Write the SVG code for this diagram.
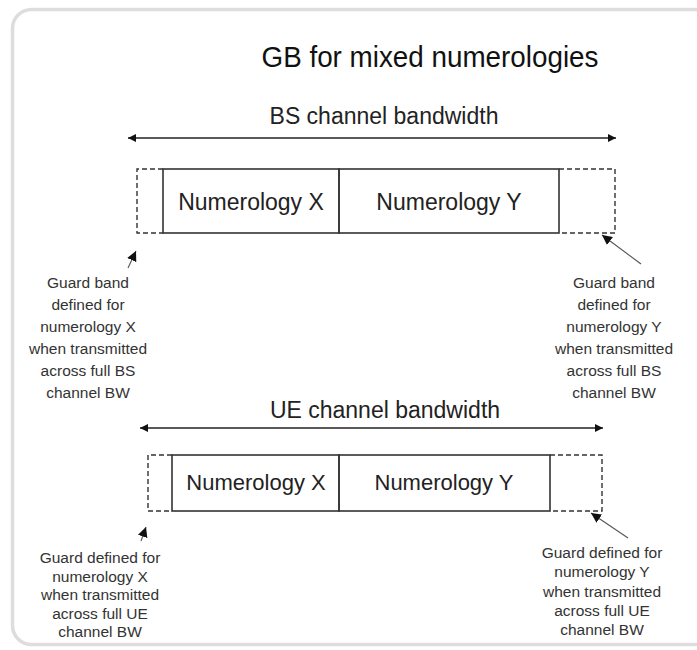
<svg xmlns="http://www.w3.org/2000/svg" width="697" height="650" viewBox="0 0 697 650">
<defs>
<style>
.t{font-family:"Liberation Sans",Arial,sans-serif;fill:#111;text-anchor:middle}
.title{font-size:30px}
.bw{font-size:23px;fill:#222}
.num{font-size:23px;fill:#222}
.numue{font-size:22px;fill:#222}
.note{font-size:15.5px;fill:#333}
.box{fill:none;stroke:#333;stroke-width:1.6}
.guard{fill:none;stroke:#333;stroke-width:1.4;stroke-dasharray:5,3}
.bwline{stroke:#222;stroke-width:1.3;fill:none}
.ptr{stroke:#555;stroke-width:1.1;fill:none}
</style>
<marker id="ah" viewBox="0 0 10 10" refX="10" refY="5" markerWidth="8" markerHeight="8" markerUnits="userSpaceOnUse" orient="auto-start-reverse">
<path d="M0,0 L10,5 L0,10 z" fill="#111"/>
</marker>
<marker id="ph" viewBox="0 0 10 10" refX="10" refY="5" markerWidth="10" markerHeight="10" markerUnits="userSpaceOnUse" orient="auto">
<path d="M0,0 L10,5 L0,10 z" fill="#111"/>
</marker>
</defs>
<rect x="12.5" y="9.5" width="700" height="635" rx="19" fill="#fff" stroke="#ddd" stroke-width="3.5"/>
<text class="t title" x="430" y="67" textLength="337" lengthAdjust="spacingAndGlyphs">GB for mixed numerologies</text>

<g id="bs-label"><text class="t bw" x="384" y="124">BS channel bandwidth</text></g>
<g id="bs-guard-x"><path class="guard" d="M163,169 H137 V233 H163"/></g>
<g id="bs-num-x"><rect class="box" x="163" y="169" width="176" height="64"/><text class="t num" x="251" y="210">Numerology X</text></g>
<g id="bs-num-y"><rect class="box" x="339" y="169" width="220" height="64"/><text class="t num" x="449" y="210">Numerology Y</text></g>
<g id="bs-guard-y"><path class="guard" d="M559,169 H615 V233 H559"/></g>
<g id="bs-note-x"><text class="t note" x="88" y="288">Guard band</text><text class="t note" x="88" y="310">defined for</text><text class="t note" x="88" y="332">numerology X</text><text class="t note" x="88" y="354">when transmitted</text><text class="t note" x="88" y="376">across full BS</text><text class="t note" x="88" y="398">channel BW</text></g>
<g id="bs-note-y"><text class="t note" x="614" y="288">Guard band</text><text class="t note" x="614" y="310">defined for</text><text class="t note" x="614" y="332">numerology Y</text><text class="t note" x="614" y="354">when transmitted</text><text class="t note" x="614" y="376">across full BS</text><text class="t note" x="614" y="398">channel BW</text></g>

<g id="ue-label"><text class="t bw" x="385" y="418">UE channel bandwidth</text></g>
<g id="ue-guard-x"><path class="guard" d="M172,455 H148 V511 H172"/></g>
<g id="ue-num-x"><rect class="box" x="172" y="455" width="167" height="56"/><text class="t numue" x="256" y="490">Numerology X</text></g>
<g id="ue-num-y"><rect class="box" x="339" y="455" width="211" height="56"/><text class="t numue" x="444" y="490">Numerology Y</text></g>
<g id="ue-guard-y"><path class="guard" d="M550,455 H602 V511 H550"/></g>
<g id="ue-note-x"><text class="t note" x="100" y="563">Guard defined for</text><text class="t note" x="100" y="581.5">numerology X</text><text class="t note" x="100" y="600">when transmitted</text><text class="t note" x="100" y="618.5">across full UE</text><text class="t note" x="100" y="637">channel BW</text></g>
<g id="ue-note-y"><text class="t note" x="602" y="558">Guard defined for</text><text class="t note" x="602" y="577">numerology Y</text><text class="t note" x="602" y="596.5">when transmitted</text><text class="t note" x="602" y="616">across full UE</text><text class="t note" x="602" y="635">channel BW</text></g>

<g id="connectors">
<line class="bwline" x1="128" y1="138" x2="616" y2="138" marker-start="url(#ah)" marker-end="url(#ah)"/>
<line class="bwline" x1="140" y1="428" x2="603" y2="428" marker-start="url(#ah)" marker-end="url(#ah)"/>
<line class="ptr" x1="128" y1="268" x2="136" y2="251" marker-end="url(#ph)"/>
<line class="ptr" x1="641" y1="264" x2="602" y2="235" marker-end="url(#ph)"/>
<line class="ptr" x1="141" y1="541" x2="146" y2="527" marker-end="url(#ph)"/>
<line class="ptr" x1="628" y1="538" x2="591" y2="513" marker-end="url(#ph)"/>
</g>
</svg>
